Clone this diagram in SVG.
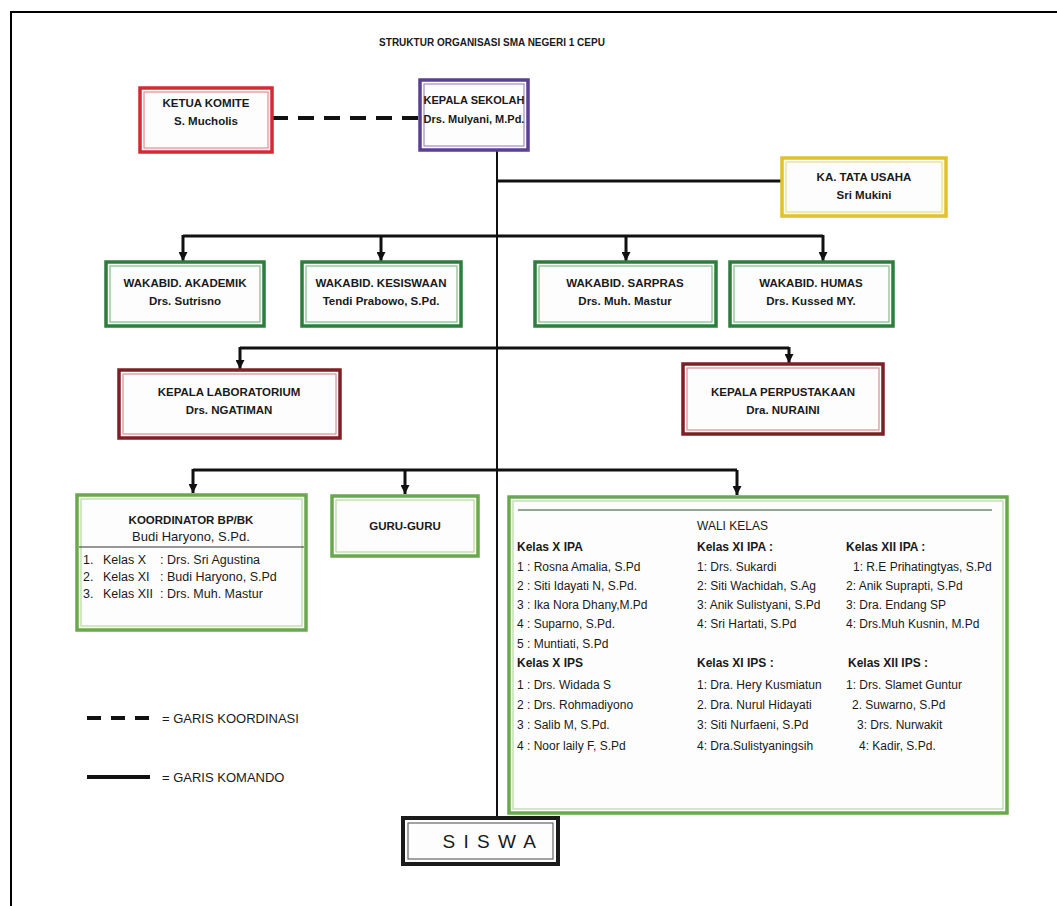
<svg xmlns="http://www.w3.org/2000/svg" width="1057" height="906" viewBox="0 0 1057 906">
<defs>
<marker id="arr" markerWidth="9" markerHeight="9" refX="9" refY="4.5" orient="auto" markerUnits="userSpaceOnUse">
<path d="M0,0 L9,4.5 L0,9 z" fill="#111"/>
</marker>
<style>
.t{font-family:"Liberation Sans",Arial,sans-serif;fill:#1a1a1a;font-size:11.5px}
.b{font-weight:bold}
.c{text-anchor:middle}
.w{font-size:12px}
.k{font-size:12.5px}
.lg{font-size:13px}
.ln{stroke:#111;stroke-width:3;fill:none}
.red .o{stroke:#d42a33;stroke-width:3.5}
.red .i{stroke:#e98a8f;stroke-width:1.2}
.pur .o{stroke:#5b3f91;stroke-width:3.5}
.pur .i{stroke:#a08cc8;stroke-width:1.2}
.yel .o{stroke:#e2c02c;stroke-width:3.5}
.yel .i{stroke:#f0dc82;stroke-width:1.2}
.grn .o{stroke:#2e7d3c;stroke-width:3.5}
.grn .i{stroke:#7fbf8a;stroke-width:1.2}
.mar .o{stroke:#7d1f24;stroke-width:3.5}
.mar .i{stroke:#d98f93;stroke-width:1.2}
.lgr .o{stroke:#6aa84f;stroke-width:3.5}
.lgr .i{stroke:#b6d9a0;stroke-width:1.2}
.blk .o{stroke:#1b1b1b;stroke-width:4}
.blk .i{stroke:#666;stroke-width:1.2}
.o,.i{fill:#fdfdfd}
</style>
</defs>
<rect width="1057" height="906" fill="#fff"/>
<path d="M11,906 V12 H1057" stroke="#000" stroke-width="2" fill="none"/>
<text class="t b c" x="492" y="46" style="font-size:10px">STRUKTUR ORGANISASI SMA NEGERI 1 CEPU</text>

<g id="connectors">
<line x1="272" y1="118" x2="420" y2="118" stroke="#111" stroke-width="4" stroke-dasharray="16 10"/>
<line x1="497" y1="150" x2="497" y2="818" stroke="#111" stroke-width="2"/>
<line class="ln" x1="497" y1="181" x2="782" y2="181"/>
<line class="ln" x1="183" y1="236" x2="823" y2="236"/>
<line class="ln" x1="183" y1="235" x2="183" y2="261" marker-end="url(#arr)"/>
<line class="ln" x1="381" y1="236" x2="381" y2="261" marker-end="url(#arr)"/>
<line class="ln" x1="626" y1="236" x2="626" y2="261" marker-end="url(#arr)"/>
<line class="ln" x1="823" y1="235" x2="823" y2="261" marker-end="url(#arr)"/>
<line class="ln" x1="240" y1="348" x2="789" y2="348"/>
<line class="ln" x1="240" y1="347" x2="240" y2="369" marker-end="url(#arr)"/>
<line class="ln" x1="789" y1="347" x2="789" y2="363" marker-end="url(#arr)"/>
<line class="ln" x1="193" y1="470" x2="737" y2="470"/>
<line class="ln" x1="193" y1="469" x2="193" y2="493" marker-end="url(#arr)"/>
<line class="ln" x1="405" y1="470" x2="405" y2="494" marker-end="url(#arr)"/>
<line class="ln" x1="737" y1="470" x2="737" y2="495" marker-end="url(#arr)"/>
</g>

<g id="ketua-komite" class="red">
<rect class="o" x="140" y="88" width="132" height="64"/>
<rect class="i" x="144" y="92" width="124" height="56"/>
<text class="t b c" x="206" y="107">KETUA KOMITE</text>
<text class="t b c" x="206" y="125">S. Mucholis</text>
</g>

<g id="kepala-sekolah" class="pur">
<rect class="o" x="420" y="80" width="108" height="70"/>
<rect class="i" x="424" y="84" width="100" height="62"/>
<text class="t b c" x="474" y="104" style="font-size:11px">KEPALA SEKOLAH</text>
<text class="t b c" x="474" y="123" style="font-size:11px">Drs. Mulyani, M.Pd.</text>
</g>

<g id="tata-usaha" class="yel">
<rect class="o" x="782" y="158" width="164" height="58"/>
<rect class="i" x="786" y="162" width="156" height="50"/>
<text class="t b c" x="864" y="181">KA. TATA USAHA</text>
<text class="t b c" x="864" y="199">Sri Mukini</text>
</g>

<g id="wakabid-akademik" class="grn">
<rect class="o" x="106" y="262" width="158" height="64"/>
<rect class="i" x="110" y="266" width="150" height="56"/>
<text class="t b c" x="185" y="287">WAKABID. AKADEMIK</text>
<text class="t b c" x="185" y="305">Drs. Sutrisno</text>
</g>

<g id="wakabid-kesiswaan" class="grn">
<rect class="o" x="302" y="262" width="159" height="64"/>
<rect class="i" x="306" y="266" width="151" height="56"/>
<text class="t b c" x="381" y="287">WAKABID. KESISWAAN</text>
<text class="t b c" x="381" y="305">Tendi Prabowo, S.Pd.</text>
</g>

<g id="wakabid-sarpras" class="grn">
<rect class="o" x="535" y="262" width="181" height="64"/>
<rect class="i" x="539" y="266" width="173" height="56"/>
<text class="t b c" x="625" y="287">WAKABID. SARPRAS</text>
<text class="t b c" x="625" y="305">Drs. Muh. Mastur</text>
</g>

<g id="wakabid-humas" class="grn">
<rect class="o" x="730" y="262" width="163" height="64"/>
<rect class="i" x="734" y="266" width="155" height="56"/>
<text class="t b c" x="811" y="287">WAKABID. HUMAS</text>
<text class="t b c" x="811" y="305">Drs. Kussed MY.</text>
</g>

<g id="kepala-lab" class="mar">
<rect class="o" x="119" y="370" width="221" height="68"/>
<rect class="i" x="123" y="374" width="213" height="60"/>
<text class="t b c" x="229" y="396">KEPALA LABORATORIUM</text>
<text class="t b c" x="229" y="414">Drs. NGATIMAN</text>
</g>

<g id="kepala-perpus" class="mar">
<rect class="o" x="683" y="364" width="200" height="70"/>
<rect class="i" x="687" y="368" width="192" height="62"/>
<text class="t b c" x="783" y="396">KEPALA PERPUSTAKAAN</text>
<text class="t b c" x="783" y="414">Dra. NURAINI</text>
</g>

<g id="koordinator-bpbk" class="lgr">
<rect class="o" x="77" y="495" width="229" height="135"/>
<rect class="i" x="81" y="499" width="221" height="127"/>
<text class="t b c" x="191" y="524">KOORDINATOR BP/BK</text>
<text class="t c lg" x="191" y="541">Budi Haryono, S.Pd.</text>
<line x1="79" y1="547" x2="304" y2="547" stroke="#333" stroke-width="1.2"/>
<text class="t k" x="83" y="564">1.</text><text class="t k" x="103" y="564">Kelas X</text><text class="t k" x="160" y="564">: Drs. Sri Agustina</text>
<text class="t k" x="83" y="581">2.</text><text class="t k" x="103" y="581">Kelas XI</text><text class="t k" x="160" y="581">: Budi Haryono, S.Pd</text>
<text class="t k" x="83" y="598">3.</text><text class="t k" x="103" y="598">Kelas XII</text><text class="t k" x="160" y="598">: Drs. Muh. Mastur</text>
</g>

<g id="guru-guru" class="lgr">
<rect class="o" x="332" y="496" width="146" height="60"/>
<rect class="i" x="336" y="500" width="138" height="52"/>
<text class="t b c" x="405" y="530">GURU-GURU</text>
</g>

<g id="wali-kelas" class="lgr">
<rect class="o" x="509" y="497" width="498" height="316"/>
<rect class="i" x="513" y="501" width="490" height="308"/>
<line x1="518" y1="510" x2="992" y2="510" stroke="#6b8a6b" stroke-width="1.5"/>
<text class="t w" x="697" y="530">WALI KELAS</text>
<text class="t w b" x="517" y="551">Kelas X IPA</text>
<text class="t w" x="517" y="571">1 : Rosna Amalia, S.Pd</text>
<text class="t w" x="517" y="590">2 : Siti Idayati N, S.Pd.</text>
<text class="t w" x="517" y="609">3 : Ika Nora Dhany,M.Pd</text>
<text class="t w" x="517" y="628">4 : Suparno, S.Pd.</text>
<text class="t w" x="517" y="648">5 : Muntiati, S.Pd</text>
<text class="t w b" x="517" y="667">Kelas X IPS</text>
<text class="t w" x="517" y="689">1 : Drs. Widada S</text>
<text class="t w" x="517" y="709">2 : Drs. Rohmadiyono</text>
<text class="t w" x="517" y="729">3 : Salib M, S.Pd.</text>
<text class="t w" x="517" y="750">4 : Noor laily F, S.Pd</text>
<text class="t w b" x="697" y="551">Kelas XI IPA :</text>
<text class="t w" x="697" y="571">1: Drs. Sukardi</text>
<text class="t w" x="697" y="590">2: Siti Wachidah, S.Ag</text>
<text class="t w" x="697" y="609">3: Anik Sulistyani, S.Pd</text>
<text class="t w" x="697" y="628">4: Sri Hartati, S.Pd</text>
<text class="t w b" x="697" y="667">Kelas XI IPS :</text>
<text class="t w" x="697" y="689">1: Dra. Hery Kusmiatun</text>
<text class="t w" x="697" y="709">2. Dra. Nurul Hidayati</text>
<text class="t w" x="697" y="729">3: Siti Nurfaeni, S.Pd</text>
<text class="t w" x="697" y="750">4: Dra.Sulistyaningsih</text>
<text class="t w b" x="846" y="551">Kelas XII IPA :</text>
<text class="t w" x="853" y="571">1: R.E Prihatingtyas, S.Pd</text>
<text class="t w" x="846" y="590">2: Anik Suprapti, S.Pd</text>
<text class="t w" x="846" y="609">3: Dra. Endang SP</text>
<text class="t w" x="846" y="628">4: Drs.Muh Kusnin, M.Pd</text>
<text class="t w b" x="848" y="667">Kelas XII IPS :</text>
<text class="t w" x="846" y="689">1: Drs. Slamet Guntur</text>
<text class="t w" x="852" y="709">2. Suwarno, S.Pd</text>
<text class="t w" x="857" y="729">3: Drs. Nurwakit</text>
<text class="t w" x="859" y="750">4: Kadir, S.Pd.</text>
</g>

<g id="legend">
<line x1="87" y1="718" x2="152" y2="718" stroke="#111" stroke-width="4" stroke-dasharray="14 10"/>
<text class="t lg" x="162" y="723">= GARIS KOORDINASI</text>
<line x1="87" y1="777" x2="150" y2="777" stroke="#111" stroke-width="4"/>
<text class="t lg" x="162" y="782">= GARIS KOMANDO</text>
</g>

<g id="siswa" class="blk">
<rect class="o" x="403" y="818" width="155" height="46"/>
<rect class="i" x="408" y="823" width="145" height="36"/>
<text class="t c" x="490" y="848" style="font-size:19px;letter-spacing:1.5px">S I S W A</text>
</g>
</svg>
